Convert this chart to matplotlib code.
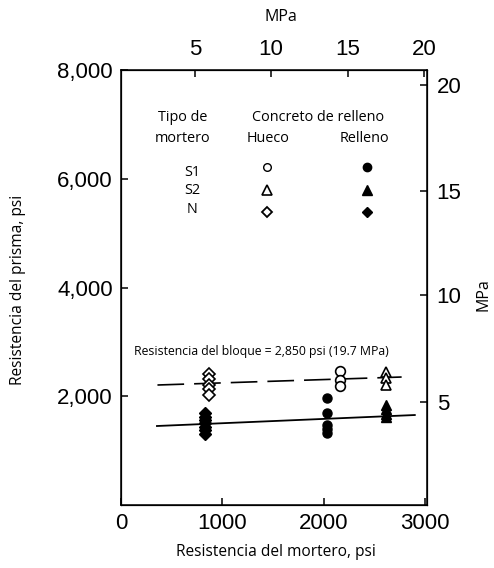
import matplotlib
matplotlib.use("Agg")
import matplotlib.pyplot as plt

# mortar strength (psi) and prism strength (psi)
n_hollow_x = [870, 870, 870, 870, 870]
n_hollow_y = [2410, 2320, 2210, 2130, 2020]
n_filled_x = [830, 830, 830, 830, 830, 830, 830]
n_filled_y = [1690, 1620, 1560, 1500, 1440, 1380, 1310]
s1_hollow_x = [2160, 2160, 2160]
s1_hollow_y = [2460, 2300, 2180]
s1_filled_x = [2030, 2030, 2030, 2030, 2030]
s1_filled_y = [1970, 1700, 1480, 1400, 1330]
s2_hollow_x = [2620, 2620, 2620]
s2_hollow_y = [2450, 2330, 2200]
s2_filled_x = [2620, 2620, 2620, 2620]
s2_filled_y = [1840, 1760, 1680, 1620]

# trend lines
hollow_line_x = [360, 2770]
hollow_line_y = [2207, 2354]
filled_line_x = [355, 2900]
filled_line_y = [1453, 1655]

x_ticks = [0, 1000, 2000, 3000]
y_ticks = [2000, 4000, 6000, 8000]
y_tick_labels = ["2,000", "4,000", "6,000", "8,000"]
# MPa scales as drawn on the original (positions in psi)
top_ticks = [729, 1478, 2236, 2990]
top_labels = ["5", "10", "15", "20"]
right_ticks = [1894, 3862, 5775, 7724]
right_labels = ["5", "10", "15", "20"]

tick_font = "Liberation Sans"
text_font = "Open Sans"

fig = plt.figure(figsize=(4.94, 5.68), dpi=100)
ax = fig.add_axes([0.2449, 0.1109, 0.6194, 0.7658])

ax.plot(hollow_line_x, hollow_line_y, color="black", lw=1.2, dashes=(16, 6))
ax.plot(filled_line_x, filled_line_y, color="black", lw=1.3)

ms = 7
hollow = dict(color="black", mfc="white", mec="black", mew=1.2, ms=ms, ls="none")
filled = dict(color="black", mfc="black", mec="black", ms=ms, ls="none")
ax.plot(n_hollow_x, n_hollow_y, marker="D", **dict(hollow, ms=6))
ax.plot(n_filled_x, n_filled_y, marker="D", **dict(filled, ms=6))
ax.plot(s1_hollow_x, s1_hollow_y, marker="o", **hollow)
ax.plot(s1_filled_x, s1_filled_y, marker="o", **dict(filled, ms=6.5))
ax.plot(s2_hollow_x, s2_hollow_y, marker="^", **hollow)
ax.plot(s2_filled_x, s2_filled_y, marker="^", **filled)

ax.set_xlim(0, 3020)
ax.set_ylim(0, 8000)
ax.set_xticks(x_ticks)
ax.set_yticks(y_ticks, y_tick_labels)
ax.tick_params(direction="in", length=5, width=1.1, labelsize=16, pad=6)
for lab in ax.get_xticklabels() + ax.get_yticklabels():
    lab.set_fontfamily(tick_font)
for s in ax.spines.values():
    s.set_linewidth(1.1)

top = ax.twiny()
top.set_xlim(ax.get_xlim())
top.set_xticks(top_ticks, top_labels)
top.tick_params(direction="in", length=5, width=1.1, labelsize=16, pad=7)
for lab in top.get_xticklabels():
    lab.set_fontfamily(tick_font)

right = ax.twinx()
right.set_ylim(ax.get_ylim())
right.set_yticks(right_ticks, right_labels)
right.tick_params(direction="in", length=5, width=1.1, labelsize=16, pad=7)
for lab in right.get_yticklabels():
    lab.set_fontfamily(tick_font)

# axis titles
fig.text(276 / 494, 1 - 552 / 568, "Resistencia del mortero, psi", ha="center", va="center",
         family=text_font, fontsize=11.2)
fig.text(18 / 494, 1 - 290 / 568, "Resistencia del prisma, psi", ha="center", va="center",
         rotation=90, family=text_font, fontsize=11.2)
fig.text(281 / 494, 1 - 17 / 568, "MPa", ha="center", va="center", family=text_font, fontsize=11.5)
fig.text(483 / 494, 1 - 295 / 568, "MPa", ha="center", va="center", rotation=90,
         family=text_font, fontsize=11.5)

# key
kw = dict(ha="center", va="center", family=text_font, fontsize=10.4)
ax.text(611, 7135, "Tipo de", **kw)
ax.text(611, 6749, "mortero", **kw)
ax.text(1941, 7135, "Concreto de relleno", **kw)
ax.text(1448, 6749, "Hueco", **kw)
ax.text(2404, 6749, "Relleno", **kw)
ax.text(700, 6124, "S1", **kw)
ax.text(700, 5793, "S2", **kw)
ax.text(700, 5443, "N", **kw)
ax.plot([1438], [6216], marker="o", **dict(hollow, ms=5.5, mew=1.0))
ax.plot([1438], [5793], marker="^", **dict(hollow, ms=7, mew=1.2))
ax.plot([1438], [5388], marker="D", **dict(hollow, ms=5, mew=1.3))
ax.plot([2424], [6216], marker="o", **dict(filled, ms=6))
ax.plot([2424], [5793], marker="^", **dict(filled, ms=7.5))
ax.plot([2424], [5388], marker="D", **dict(filled, ms=5.5))

ax.text(1389, 2832, "Resistencia del bloque = 2,850 psi (19.7 MPa)", ha="center", va="center",
        family=text_font, fontsize=8.8)

fig.savefig("out.png", dpi=100)
